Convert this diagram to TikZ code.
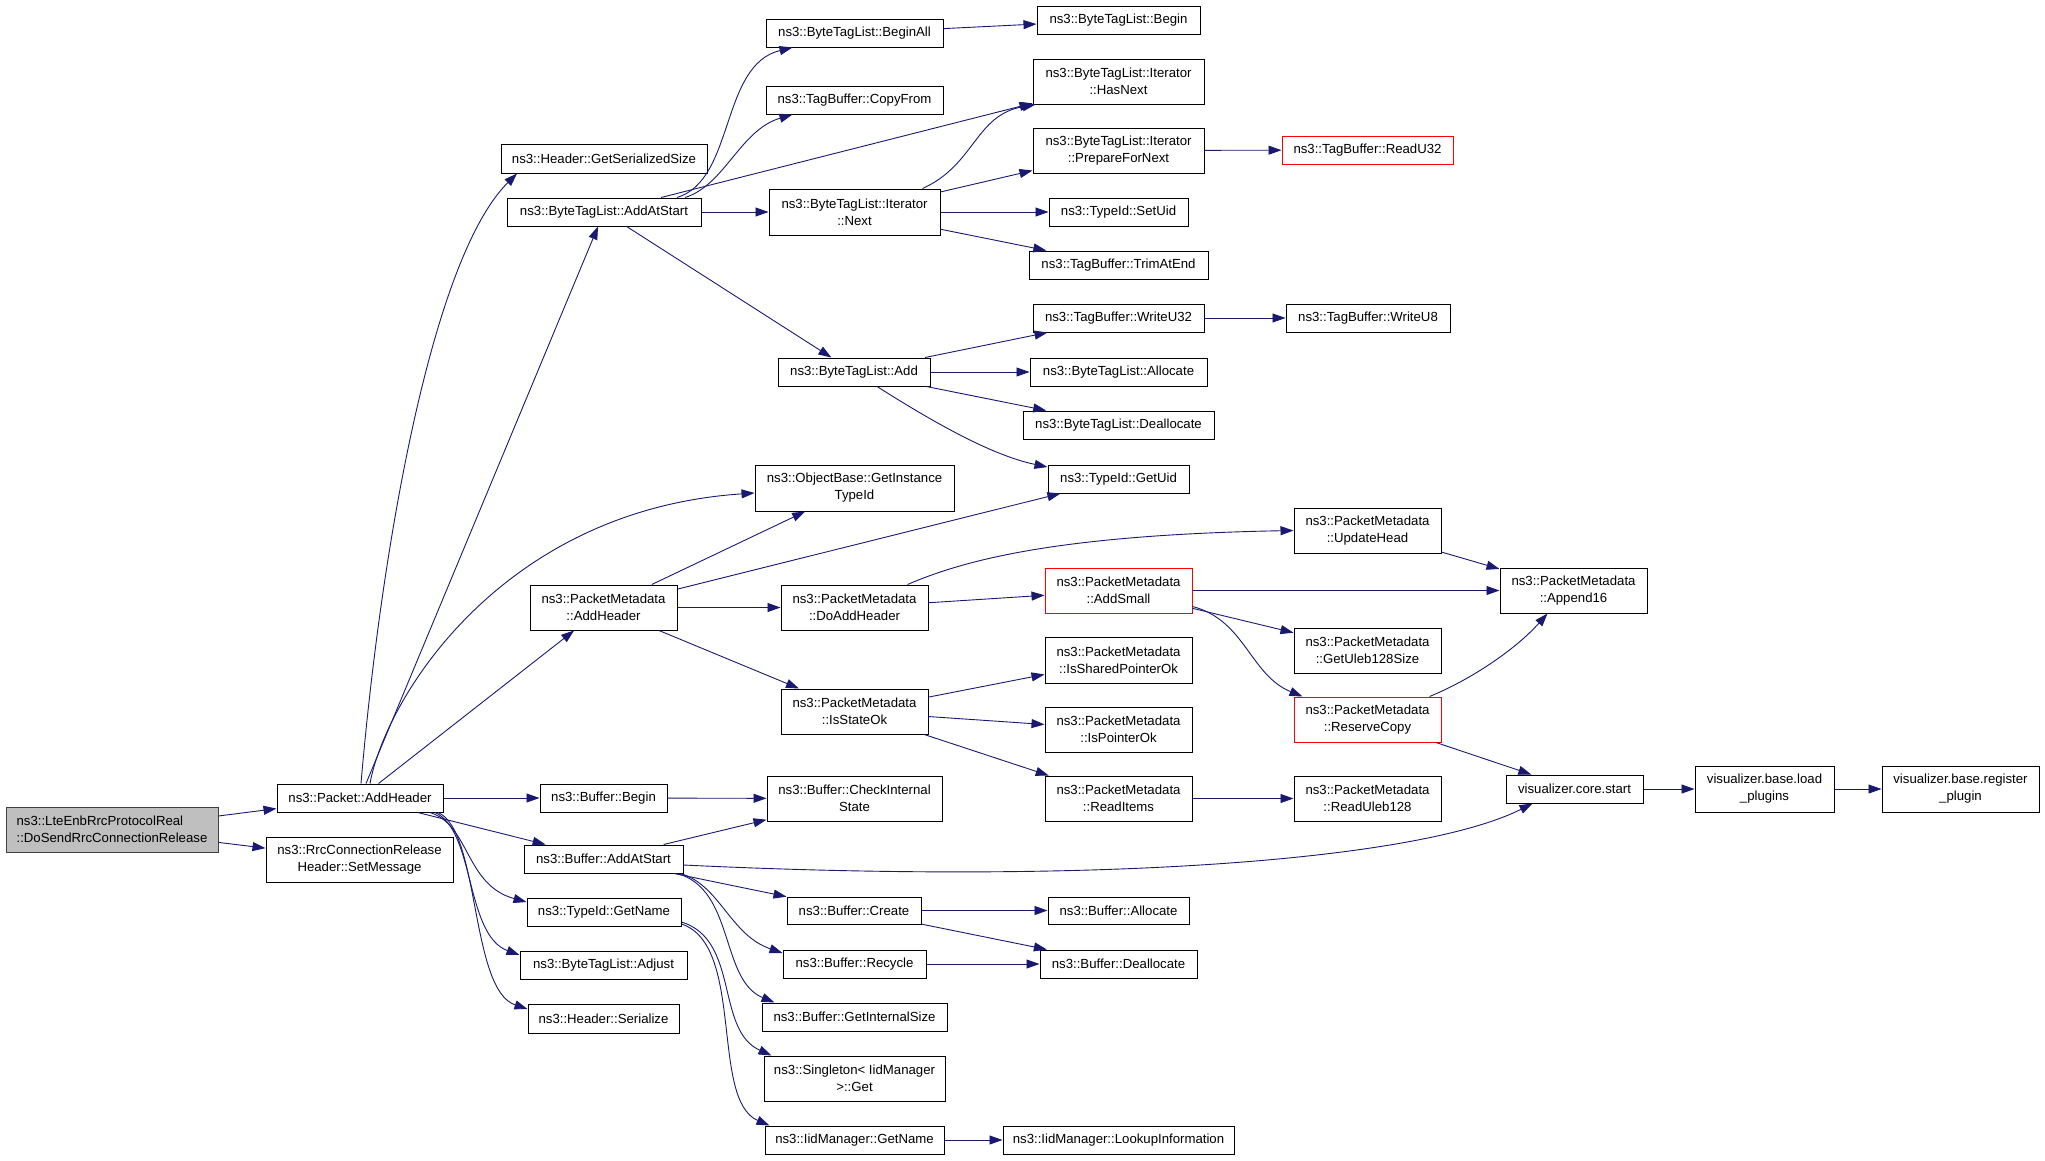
\documentclass[tikz,border=0pt]{standalone}
\usepackage{fontspec}
\setmainfont{Liberation Sans}
\usetikzlibrary{arrows.meta}
\definecolor{edgeblue}{HTML}{191970}
\definecolor{rootfill}{HTML}{BFBFBF}
\definecolor{boxline}{HTML}{404040}
\tikzset{
  box/.style={draw=black, line width=1pt, fill=white, inner sep=0pt, align=center,
    font=\fontsize{13.2}{17}\selectfont},
  redbox/.style={draw=red},
  rootbox/.style={fill=rootfill, draw=boxline, align=left},
  edge/.style={draw=edgeblue, line width=0.9pt, -{Triangle[length=13pt,width=9pt]}},
}
\newcommand\bx[7][]{\node[box,#1,minimum width={#5-#3},minimum height={#6-#4}] (#2) at ({(#3+#5)/2},{(#4+#6)/2}) {#7};}
\begin{document}
\begin{tikzpicture}[x=1pt,y=-1pt]
\fill[white] (0,0) rectangle (2045,1160);
\useasboundingbox (0,0) rectangle (2045,1160);
% nodes
\bx[rootbox]{root}{6}{807}{218}{852}{ns3::LteEnbRrcProtocolReal\\::DoSendRrcConnectionRelease}
\bx{pah}{277}{784}{443}{812}{ns3::Packet::AddHeader}
\bx{setmsg}{266}{837}{453}{882}{ns3::RrcConnectionRelease\\Header::SetMessage}
\bx{gss}{501}{144}{707}{173}{ns3::Header::GetSerializedSize}
\bx{btlaas}{507}{198}{701}{226}{ns3::ByteTagList::AddAtStart}
\bx{beginall}{766}{19}{943}{47}{ns3::ByteTagList::BeginAll}
\bx{copyfrom}{766}{86}{943}{114}{ns3::TagBuffer::CopyFrom}
\bx{next}{769}{189}{940}{235}{ns3::ByteTagList::Iterator\\::Next}
\bx{add}{778}{358}{930}{386}{ns3::ByteTagList::Add}
\bx{oigit}{755}{465}{954}{511}{ns3::ObjectBase::GetInstance\\TypeId}
\bx{pmah}{530}{585}{677}{630}{ns3::PacketMetadata\\::AddHeader}
\bx{doadd}{781}{585}{928}{630}{ns3::PacketMetadata\\::DoAddHeader}
\bx{isstate}{781}{689}{928}{734}{ns3::PacketMetadata\\::IsStateOk}
\bx{bbegin}{540}{784}{667}{812}{ns3::Buffer::Begin}
\bx{check}{767}{776}{942}{821}{ns3::Buffer::CheckInternal\\State}
\bx{baas}{524}{845}{683}{873}{ns3::Buffer::AddAtStart}
\bx{tgetname}{527}{898}{681}{926}{ns3::TypeId::GetName}
\bx{adjust}{520}{951}{687}{979}{ns3::ByteTagList::Adjust}
\bx{serialize}{528}{1004}{679}{1033}{ns3::Header::Serialize}
\bx{create}{787}{897}{921}{924}{ns3::Buffer::Create}
\bx{recycle}{783}{950}{926}{978}{ns3::Buffer::Recycle}
\bx{getint}{762}{1003}{947}{1031}{ns3::Buffer::GetInternalSize}
\bx{singleton}{764}{1056}{945}{1101}{ns3::Singleton< IidManager\\>::Get}
\bx{iidgetname}{765}{1126}{944}{1154}{ns3::IidManager::GetName}
\bx{btlbegin}{1037}{6}{1200}{34}{ns3::ByteTagList::Begin}
\bx{hasnext}{1033}{59}{1204}{104}{ns3::ByteTagList::Iterator\\::HasNext}
\bx{prepare}{1033}{128}{1204}{173}{ns3::ByteTagList::Iterator\\::PrepareForNext}
\bx[redbox]{readu32}{1282}{136}{1453}{164}{ns3::TagBuffer::ReadU32}
\bx{setuid}{1049}{198}{1188}{226}{ns3::TypeId::SetUid}
\bx{trim}{1029}{251}{1208}{279}{ns3::TagBuffer::TrimAtEnd}
\bx{writeu32}{1033}{304}{1204}{332}{ns3::TagBuffer::WriteU32}
\bx{writeu8}{1286}{304}{1450}{332}{ns3::TagBuffer::WriteU8}
\bx{allocate}{1030}{358}{1207}{386}{ns3::ByteTagList::Allocate}
\bx{dealloc}{1023}{411}{1214}{439}{ns3::ByteTagList::Deallocate}
\bx{getuid}{1048}{465}{1189}{493}{ns3::TypeId::GetUid}
\bx{updatehead}{1294}{508}{1441}{553}{ns3::PacketMetadata\\::UpdateHead}
\bx[redbox]{addsmall}{1045}{568}{1192}{613}{ns3::PacketMetadata\\::AddSmall}
\bx{uleb128size}{1294}{628}{1441}{673}{ns3::PacketMetadata\\::GetUleb128Size}
\bx{shared}{1045}{637}{1192}{683}{ns3::PacketMetadata\\::IsSharedPointerOk}
\bx{ptrok}{1045}{707}{1192}{752}{ns3::PacketMetadata\\::IsPointerOk}
\bx[redbox]{reserve}{1294}{697}{1441}{742}{ns3::PacketMetadata\\::ReserveCopy}
\bx{readitems}{1045}{776}{1192}{821}{ns3::PacketMetadata\\::ReadItems}
\bx{readuleb}{1294}{776}{1441}{821}{ns3::PacketMetadata\\::ReadUleb128}
\bx{ballocate}{1048}{897}{1189}{924}{ns3::Buffer::Allocate}
\bx{bdealloc}{1040}{950}{1197}{978}{ns3::Buffer::Deallocate}
\bx{lookup}{1003}{1126}{1234}{1154}{ns3::IidManager::LookupInformation}
\bx{append16}{1500}{568}{1647}{613}{ns3::PacketMetadata\\::Append16}
\bx{corestart}{1506}{775}{1643}{803}{visualizer.core.start}
\bx{loadpl}{1695}{766}{1834}{812}{visualizer.base.load\\\_plugins}
\bx{regpl}{1882}{766}{2039}{812}{visualizer.base.register\\\_plugin}
% edges
\draw[edge] (root) -- (pah);
\draw[edge] (root) -- (setmsg);
\draw[edge] ([xshift=1pt]pah.north) .. controls (380,560) and (430,260) .. ([xshift=-87pt]gss.south);
\draw[edge] (pah) -- (btlaas);
\draw[edge] ([xshift=10pt]pah.north) .. controls (385,700) and (500,510) .. ([yshift=-5pt]oigit.west);
\draw[edge] (pah) -- (pmah);
\draw[edge] (pah) -- (bbegin);
\draw[edge] (pah) -- (baas);
\draw[edge] ([xshift=70pt]pah.south) .. controls (470,825) and (465,885) .. ([yshift=10pt]tgetname.west);
\draw[edge] ([xshift=75pt]pah.south) .. controls (475,830) and (465,935) .. ([yshift=10pt]adjust.west);
\draw[edge] ([xshift=78pt]pah.south) .. controls (480,830) and (470,990) .. ([yshift=9.5pt]serialize.west);
\draw[edge] ([xshift=73pt]btlaas.north) .. controls (735,180) and (720,65) .. ([xshift=-62pt]beginall.south);
\draw[edge] ([xshift=81pt]btlaas.north) .. controls (725,185) and (740,130) .. ([xshift=-62pt]copyfrom.south);
\draw[edge] (btlaas) -- (hasnext);
\draw[edge] (btlaas) -- (next);
\draw[edge] (btlaas) -- (add);
\draw[edge] (beginall) -- (btlbegin);
\draw[edge] ([xshift=68pt]next.north) .. controls (975,165) and (975,115) .. ([xshift=3pt]hasnext.south west);
\draw[edge] (next) -- (prepare);
\draw[edge] (next) -- (setuid);
\draw[edge] (next) -- (trim);
\draw[edge] (prepare) -- (readu32);
\draw[edge] (add) -- (writeu32);
\draw[edge] (add) -- (allocate);
\draw[edge] (add) -- (dealloc);
\draw[edge] ([xshift=23pt]add.south) .. controls (930,420) and (990,455) .. ([yshift=12pt]getuid.west);
\draw[edge] (writeu32) -- (writeu8);
\draw[edge] (pmah) -- (oigit);
\draw[edge] (pmah) -- (getuid);
\draw[edge] (pmah) -- (doadd);
\draw[edge] (pmah) -- (isstate);
\draw[edge] ([xshift=53pt]doadd.north) .. controls (960,562) and (1050,535) .. (updatehead.west);
\draw[edge] (doadd) -- (addsmall);
\draw[edge] (addsmall) -- (append16);
\draw[edge] (addsmall) -- (uleb128size);
\draw[edge] ([yshift=-16pt]addsmall.east) .. controls (1245,620) and (1250,675) .. ([xshift=-65pt]reserve.north);
\draw[edge] (updatehead) -- (append16);
\draw[edge] ([xshift=62pt]reserve.north) .. controls (1470,680) and (1515,650) .. ([xshift=-26pt]append16.south);
\draw[edge] (reserve) -- (corestart);
\draw[edge] (isstate) -- (shared);
\draw[edge] (isstate) -- (ptrok);
\draw[edge] (isstate) -- (readitems);
\draw[edge] (readitems) -- (readuleb);
\draw[edge] (corestart) -- (loadpl);
\draw[edge] (loadpl) -- (regpl);
\draw[edge] (bbegin) -- (check);
\draw[edge] (baas) -- (check);
\draw[edge] ([yshift=-6pt]baas.east) .. controls (1100,885) and (1420,860) .. ([xshift=-42pt]corestart.south);
\draw[edge] (baas) -- (create);
\draw[edge] ([xshift=77pt]baas.south) .. controls (720,885) and (730,935) .. ([yshift=11pt]recycle.west);
\draw[edge] ([xshift=74pt]baas.south) .. controls (735,890) and (720,980) .. ([xshift=13pt]getint.north west);
\draw[edge] (create) -- (ballocate);
\draw[edge] (create) -- (bdealloc);
\draw[edge] (recycle) -- (bdealloc);
\draw[edge] ([yshift=-10pt]tgetname.east) .. controls (740,940) and (715,1030) .. ([xshift=8pt]singleton.north west);
\draw[edge] ([yshift=-12pt]tgetname.east) .. controls (745,945) and (710,1100) .. ([xshift=5pt]iidgetname.north west);
\draw[edge] (iidgetname) -- (lookup);
\end{tikzpicture}
\end{document}
